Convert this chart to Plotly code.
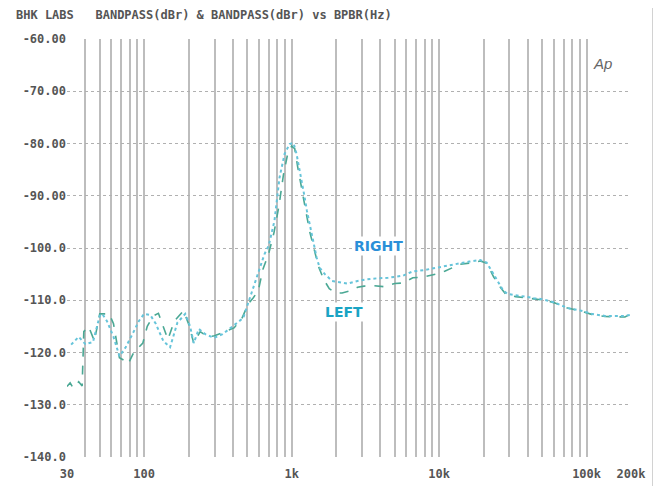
import plotly.graph_objects as go

# ---- data ----
right_freq = [32, 36, 40, 45, 50, 52, 56, 62, 68, 75, 85, 92, 100, 110, 120, 135, 150, 168, 190, 205,
              217, 235, 260, 297, 340, 388, 430, 470, 508, 550, 594, 654, 700, 765, 827, 896, 969, 1030,
              1080, 1170, 1220, 1270, 1340, 1410, 1480, 1550, 1680, 1880, 2100, 2400, 2800, 3200, 3800,
              4500, 5700, 6600, 8000, 9500, 11000, 13900, 16000, 19000, 21000, 23400, 25000, 27000,
              29000, 33000, 38000, 44000, 50000, 60500, 68000, 74300, 92000, 108000, 133000, 160000,
              182000, 200000]
right_db = [-118.5, -117, -118.4, -118, -113, -112.6, -114, -117, -120.7, -119, -116, -114, -112.6,
            -112.8, -114.5, -117.8, -119, -114.3, -112.6, -115, -118.2, -115.5, -116.5, -117.2, -116.5,
            -115.3, -114.3, -113.4, -110.5, -107.5, -105, -101.2, -99.5, -94.8, -86.6, -82, -80.1, -79.9,
            -82, -86.8, -90, -92.9, -96.2, -98.7, -101.9, -103.8, -105, -106.3, -106.5, -106.8, -106.3,
            -106, -105.8, -105.7, -105.3, -104.5, -104.2, -103.8, -103.4, -102.9, -102.6, -102.3, -102.8,
            -105, -106.3, -108, -108.8, -109, -109.3, -109.6, -109.8, -110.4, -111, -111.5, -112, -112.6,
            -113, -113, -113, -112.8]

left_freq = [30, 31.5, 33, 34.5, 36, 38, 39, 42, 46, 50, 58, 62, 68, 73, 78, 85, 98, 105, 115, 125,
             145, 160, 185, 200, 217, 240, 270, 300, 350, 407, 460, 508, 550, 594, 640, 700, 760, 820,
             880, 940, 1000, 1050, 1100, 1170, 1250, 1330, 1420, 1520, 1650, 1800, 2000, 2200, 2500,
             2800, 3100, 3600, 4200, 5000, 5660, 6630, 7700, 9530, 11000, 13900, 16000, 19000, 21000,
             23400, 26000, 28200, 33000, 44000, 52000, 60500, 74300, 92000, 108000, 133000, 182000, 200000]
left_db = [-126.5, -125.8, -126.8, -126.2, -125.6, -126.4, -116, -115, -117.8, -112.6, -112.6, -114.5,
           -121, -121.5, -122.2, -120, -118.2, -115, -113, -112.5, -117.5, -114, -112, -114.5, -118.2,
           -116, -117, -116.8, -116, -115.3, -113.5, -110.7, -109.5, -108.2, -104, -101, -97, -92, -86,
           -82, -80.5, -81, -84.5, -89, -93, -97, -100.5, -103.5, -106, -107.8, -108.6, -108.6, -108.2,
           -107.5, -107.3, -107.2, -107.4, -106.8, -106.7, -105.7, -105.6, -105, -104.4, -103.1, -102.9,
           -102.5, -102.9, -105.5, -107.5, -108.8, -109.3, -109.8, -110, -110.5, -111.5, -112.1, -112.7,
           -113.1, -113.2, -112.6]

x_grid = [30, 40, 50, 60, 70, 80, 90, 100, 200, 300, 400, 500, 600, 700, 800, 900, 1000,
          2000, 3000, 4000, 5000, 6000, 7000, 8000, 9000, 10000, 20000, 30000, 40000, 50000,
          60000, 70000, 80000, 90000, 100000, 200000]
x_labels = {30: "30", 100: "100", 1000: "1k", 10000: "10k", 100000: "100k", 200000: "200k"}
y_ticks = [-140, -130, -120, -110, -100, -90, -80, -70, -60]
y_labels = ["-140.0", "-130.0", "-120.0", "-110.0", "-100.0", "-90.00", "-80.00", "-70.00", "-60.00"]

fig = go.Figure()
fig.add_trace(go.Scatter(x=left_freq, y=left_db, mode="lines", name="LEFT",
                         line=dict(color="#4aa894", width=1.6, dash="dash")))
fig.add_trace(go.Scatter(x=right_freq, y=right_db, mode="lines", name="RIGHT",
                         line=dict(color="#66c4da", width=2, dash="dot")))

mono = "DejaVu Sans Mono"
fig.update_layout(
    width=661, height=486,
    margin=dict(l=59, r=38, t=31, b=37),
    paper_bgcolor="white", plot_bgcolor="white",
    showlegend=False,
    xaxis=dict(type="log", range=[1.4771, 5.3010],
               tickvals=x_grid,
               ticktext=[("<b>" + x_labels[v] + "</b>") if v in x_labels else "" for v in x_grid],
               showgrid=True, gridcolor="#bdbdbd", gridwidth=1.8,
               zeroline=False, showline=False, ticks="", ticklabelstandoff=8,
               tickfont=dict(family=mono, size=12, color="#555555")),
    yaxis=dict(range=[-140, -60], tickvals=y_ticks, ticktext=["<b>" + t + "</b>" for t in y_labels],
               showgrid=True, gridcolor="#b0b0b0", gridwidth=1, griddash="dot",
               zeroline=False, showline=False, ticks="",
               tickfont=dict(family=mono, size=12, color="#555555")),
    annotations=[
        dict(text="<b>BHK LABS   BANDPASS(dBr) & BANDPASS(dBr) vs BPBR(Hz)</b>", xref="paper", yref="paper",
             x=-0.094, y=1.057, xanchor="left", yanchor="middle", showarrow=False,
             font=dict(family=mono, size=12, color="#555555")),
        dict(text="<i>Ap</i>", xref="paper", yref="paper", x=0.97, y=0.966,
             showarrow=False, bgcolor="white", font=dict(family="Liberation Sans", size=15, color="#666666")),
        dict(text="<b>RIGHT</b>", x=3.589, y=-99.6, showarrow=False, bgcolor="white",
             font=dict(family="DejaVu Sans", size=14, color="#2a8fd8")),
        dict(text="<b>LEFT</b>", x=3.356, y=-112.2, showarrow=False, bgcolor="white",
             font=dict(family="DejaVu Sans", size=14, color="#1aa4c4")),
    ],
    shapes=[dict(type="line", xref="paper", yref="paper", x0=1.040, x1=1.040, y0=-0.1, y1=1.08,
                 line=dict(color="#999999", width=2))],
)

fig.write_html("out.html")
